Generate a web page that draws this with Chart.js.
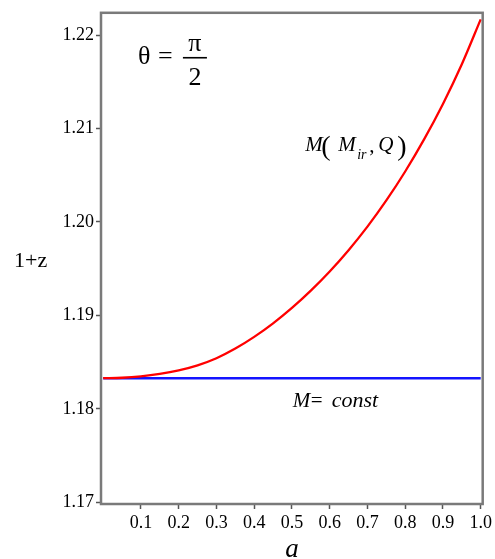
<!DOCTYPE html>
<html>
<head>
<meta charset="utf-8">
<title>1+z vs a</title>
<script src="https://cdn.jsdelivr.net/npm/chart.js@4.4.1/dist/chart.umd.min.js"></script>
<style>
    body { margin: 0; background: #fff; }
    #wrap { width: 495px; height: 559px; position: relative; }
</style>
</head>
<body>
<div id="wrap"><canvas id="chart"></canvas></div>
<script>
// values
const aValues = [0, 0.05, 0.1, 0.15, 0.2, 0.25, 0.3, 0.35, 0.4, 0.45, 0.5,
                 0.55, 0.6, 0.65, 0.7, 0.75, 0.8, 0.85, 0.9, 0.95, 1.0];
const redValues = [1.18328, 1.18333, 1.18348, 1.18374, 1.18412, 1.18466, 1.18542,
                   1.18645, 1.18770, 1.18915, 1.19080, 1.19265, 1.19470, 1.19698,
                   1.19950, 1.20230, 1.20540, 1.20883, 1.21263, 1.21688, 1.22168];
const blueValues = [1.18328, 1.18328, 1.18328, 1.18328, 1.18328, 1.18328, 1.18328,
                    1.18328, 1.18328, 1.18328, 1.18328, 1.18328, 1.18328, 1.18328,
                    1.18328, 1.18328, 1.18328, 1.18328, 1.18328, 1.18328, 1.18328];
const xTicks = [0.1, 0.2, 0.3, 0.4, 0.5, 0.6, 0.7, 0.8, 0.9, 1.0];
const yTicks = [1.17, 1.18, 1.19, 1.20, 1.21, 1.22];

const serif = "'Liberation Serif', 'DejaVu Serif', serif";

function toPoints(ys) {
    return aValues.map((a, i) => ({ x: a, y: ys[i] }));
}

// draw a row of text pieces: [font, text, dx, dy]
function drawPieces(ctx, x0, y0, pieces) {
    pieces.forEach(p => {
        ctx.font = p[0];
        ctx.fillText(p[1], x0 + p[2], y0 + p[3]);
    });
}

// frame round the plot + the text labels
const decorPlugin = {
    id: 'decor',
    afterDraw(chart) {
        const ctx = chart.ctx;
        const area = chart.chartArea;
        const xs = chart.scales.x;
        const ys = chart.scales.y;
        ctx.save();
        ctx.strokeStyle = '#7a7a7a';
        ctx.lineWidth = 2.5;
        ctx.strokeRect(area.left, area.top, area.right - area.left, area.bottom - area.top);

        ctx.fillStyle = '#000';
        ctx.textBaseline = 'alphabetic';
        ctx.textAlign = 'left';

        // y title (horizontal)
        ctx.font = '22px ' + serif;
        ctx.fillText('1+z', 14, 267);

        // x title
        ctx.font = 'italic 27px ' + serif;
        ctx.textAlign = 'center';
        ctx.fillText('a', xs.getPixelForValue(0.5), 557);

        // theta = pi/2
        const tx = xs.getPixelForValue(0.092);
        const ty = ys.getPixelForValue(1.21755);
        ctx.textAlign = 'left';
        ctx.font = '26px ' + serif;
        ctx.fillText('θ', tx, ty + 6);
        ctx.fillText('=', tx + 20, ty + 6);
        ctx.fillRect(tx + 45, ty - 1, 24, 1.6);
        ctx.textAlign = 'center';
        ctx.fillText('π', tx + 57, ty - 7);
        ctx.fillText('2', tx + 57, ty + 27);

        // M(M_ir, Q)
        ctx.textAlign = 'left';
        const mx = xs.getPixelForValue(0.535);
        const my = ys.getPixelForValue(1.20755);
        drawPieces(ctx, mx, my, [
            ['italic 21px ' + serif, 'M', 0, 0],
            ['28px ' + serif, '(', 16, 4],
            ['italic 21px ' + serif, 'M', 33, 0],
            ['italic 14px ' + serif, 'ir', 52, 8],
            ['21px ' + serif, ',', 64, 1],
            ['italic 21px ' + serif, 'Q', 73, 0],
            ['28px ' + serif, ')', 92, 4]
        ]);

        // M = const
        const cx = xs.getPixelForValue(0.502);
        const cy = ys.getPixelForValue(1.18023);
        drawPieces(ctx, cx, cy, [
            ['italic 21px ' + serif, 'M', 0, 0],
            ['21px ' + serif, '=', 18, 0],
            ['italic 22px ' + serif, 'const', 39, 0]
        ]);
        ctx.restore();
    }
};

const ctx = document.getElementById("chart").getContext("2d");

new Chart(ctx, {
    type: 'line',
    data: {
        datasets: [{
            label: 'M(Mir, Q)',
            data: toPoints(redValues),
            borderColor: '#ff0000',
            borderWidth: 2.3,
            pointRadius: 0,
            cubicInterpolationMode: 'monotone',
            fill: false
        },
        {
            label: 'M = const',
            data: toPoints(blueValues),
            borderColor: '#1414ff',
            borderWidth: 2.6,
            pointRadius: 0,
            fill: false
        }]
    },
    options: {
        responsive: true,
        maintainAspectRatio: false,
        animation: false,
        layout: { padding: { left: 0, top: 11, right: 11, bottom: 0 } },
        plugins: {
            legend: { display: false },
            tooltip: { enabled: false }
        },
        scales: {
            x: {
                type: 'linear',
                min: -0.0058,
                max: 1.0053,
                afterBuildTicks: s => { s.ticks = xTicks.map(v => ({ value: v })); },
                afterFit: s => { s.height = 55; },
                grid: { drawOnChartArea: false, tickLength: 5, tickColor: '#555', tickWidth: 1.5 },
                border: { display: false },
                ticks: {
                    color: '#000',
                    padding: 3,
                    maxRotation: 0,
                    autoSkip: false,
                    font: { family: serif, size: 18 },
                    callback: v => v.toFixed(1)
                }
            },
            y: {
                type: 'linear',
                min: 1.16982,
                max: 1.22238,
                afterBuildTicks: s => { s.ticks = yTicks.map(v => ({ value: v })); },
                afterFit: s => { s.width = 101; },
                grid: { drawOnChartArea: false, tickLength: 5, tickColor: '#555', tickWidth: 1.5 },
                border: { display: false },
                ticks: {
                    color: '#000',
                    padding: 2,
                    autoSkip: false,
                    font: { family: serif, size: 18 },
                    callback: v => v.toFixed(2)
                }
            }
        }
    },
    plugins: [decorPlugin]
});
</script>
</body>
</html>
